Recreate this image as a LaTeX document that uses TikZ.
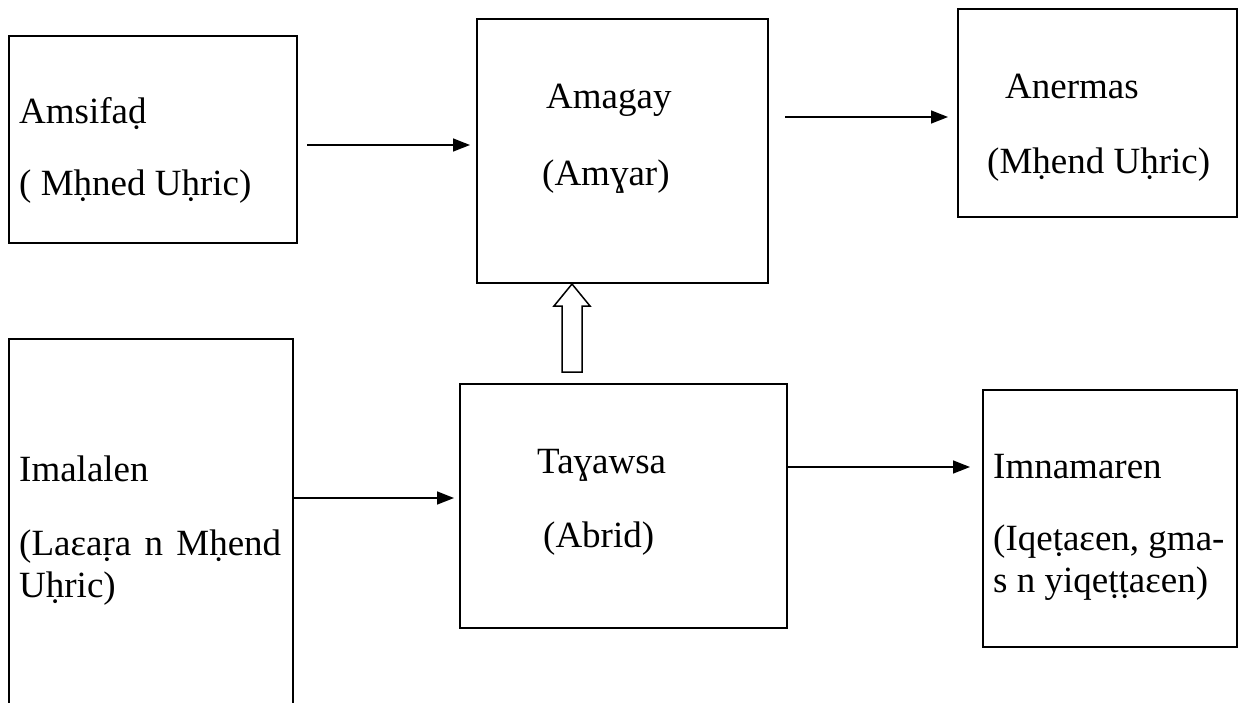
\documentclass[tikz,border=0pt]{standalone}
\usepackage{fontspec}
\setmainfont{Liberation Serif}
\usetikzlibrary{arrows.meta, positioning}

\begin{document}
\begin{tikzpicture}[x=1pt, y=-1pt,
  box/.style={draw, line width=2pt, inner sep=0pt},
  txt/.style={anchor=base west, align=left, inner sep=0pt, font=\fontsize{37}{42}\selectfont},
  arr/.style={line width=1.5pt, -{Triangle[length=17pt, width=13pt]}}]
\clip (0,0) rectangle (1239,702);

% Top row
\node[box, minimum width=288, minimum height=207] (amsifad) at (153,139.5) {};
\node[box, minimum width=291, minimum height=264] (amagay) at (622.5,151) {};
\node[box, minimum width=279, minimum height=208] (anermas) at (1097.5,113) {};

% (base sits on the last line)
\node[txt] (amsifadtxt) at (19,195) {Amsifaḍ\\[30pt]( Mḥned Uḥric)};
\node[txt] (amagaytxt) at (542,185) {\hspace*{4pt}Amagay\\[35pt](Amɣar)};
\node[txt] (anermastxt) at (987,173) {\hspace*{18pt}Anermas\\[33pt](Mḥend Uḥric)};

% Bottom row
\node[box, minimum width=284, minimum height=421] (imalalen) at (151,549.5) {};
\node[box, minimum width=327, minimum height=244] (tayawsa) at (623.5,506) {};
\node[box, minimum width=254, minimum height=257] (imnamaren) at (1110,518.5) {};

\node[txt] (imalalentxt) at (19,597) {Imalalen\\[32pt]\makebox[262pt][s]{(Laɛaṛa n Mḥend}\\Uḥric)};
\node[txt] (tayawsatxt) at (537,547) {Taɣawsa\\[32pt]\hspace*{6pt}(Abrid)};
\node[txt] (imnamarentxt) at (993,592) {Imnamaren\\[30pt](Iqeṭaɛen, gma-\\s n yiqeṭṭaɛen)};

% Arrows
\draw[arr, shorten <=9pt, shorten >=6pt] (amsifad.east |- 0,145) -- (amagay.west |- 0,145);
\draw[arr, shorten <=16pt, shorten >=9pt] (amagay.east |- 0,117) -- (anermas.west |- 0,117);
\draw[arr, shorten >=5pt] (imalalen.east |- 0,498) -- (tayawsa.west |- 0,498);
\draw[arr, shorten >=12pt] (tayawsa.east |- 0,467) -- (imnamaren.west |- 0,467);

% hollow arrow up into Amagay
\coordinate (tip) at (amagay.south -| 572,0);
\draw[line width=1.5pt] (tip) -- ++(-18,22) -- ++(8,0) -- ++(0,66) -- ++(20,0)
  -- ++(0,-66) -- ++(8,0) -- cycle;
\end{tikzpicture}
\end{document}
